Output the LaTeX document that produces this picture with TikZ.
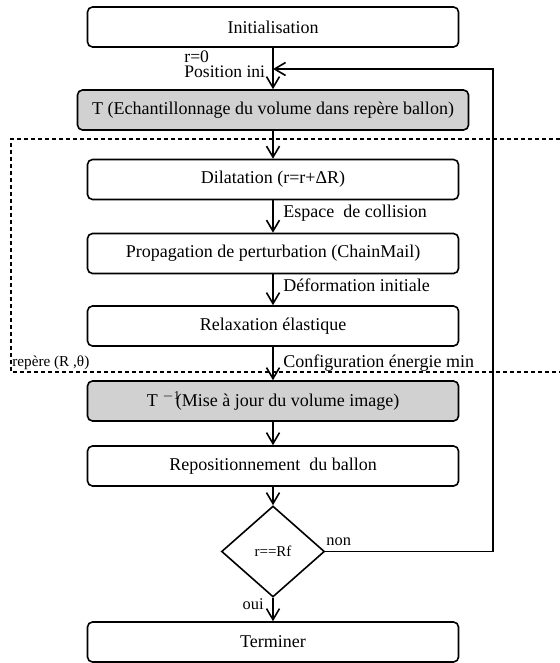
\documentclass[tikz,border=0pt]{standalone}
\usepackage{fontspec}
\setmainfont{Liberation Serif}
\usetikzlibrary{arrows.meta,shapes.geometric,positioning}
\tikzset{
  etape/.style={draw,rounded corners=2.5pt,line width=0.8pt,inner sep=2pt,minimum width=185.5pt,minimum height=20pt,font=\fontsize{9}{10}\selectfont},
  etapegris/.style={etape,fill=black!18},
  test/.style={draw,diamond,line width=0.8pt,inner sep=0pt,minimum width=51.5pt,minimum height=45.5pt,font=\fontsize{7.5}{8}\selectfont},
  fleche/.style={-{Straight Barb[length=5.5pt,width=6.5pt]},line width=0.8pt},
  cadre/.style={line width=0.6pt,dash pattern=on 2pt off 1.5pt},
  lbl/.style={font=\fontsize{9}{10}\selectfont,inner sep=0pt},
  petit/.style={font=\fontsize{8.2}{9}\selectfont,inner sep=0pt}
}
\begin{document}
\begin{tikzpicture}[x=0.5pt,y=-0.5pt]
\useasboundingbox (0,0) rectangle (560,663);
% cadre du repere ballon
\draw[cadre] (560,139) -- (11,139) -- (11,372) -- (560,372);
\node[petit,anchor=west,font=\fontsize{7.6}{8}\selectfont] (rep) at (12,363) {repère (R ,θ)};
% etapes
\node[etape] (init) at (273,27) {Initialisation};
\node[etapegris,minimum width=195.5pt] (trans) at (273,110) {T (Echantillonnage du volume dans repère ballon)};
\node[etape] (dil) at (273,179.5) {Dilatation (r=r+ΔR)};
\node[etape] (prop) at (273,253.5) {Propagation de perturbation (ChainMail)};
\node[etape] (relax) at (273,326) {Relaxation élastique};
\node[etapegris] (tinv) at (273,401) {T \textsuperscript{$-$1}\kern-2.5pt(Mise à jour du volume image)};
\node[etape] (repos) at (273,466) {Repositionnement \ du ballon};
\node[test] (dec) at (273,551.5) {r==Rf};
\node[etape] (fin) at (273,642) {Terminer};
% fleches
\draw[fleche] (init) -- (trans);
\draw[fleche] (trans) -- (dil);
\draw[fleche] (dil) -- (prop);
\draw[fleche] (prop) -- (relax);
\draw[fleche] (relax) -- (tinv);
\draw[fleche] (tinv) -- (repos);
\draw[fleche] (repos) -- (dec);
\draw[fleche] (dec) -- (fin);
\coordinate (retour) at (493,69);
\draw[fleche] (dec.east) -| (retour) -- (init.south |- retour);
% etiquettes
\node[lbl,anchor=west,align=left,font=\fontsize{8.8}{7.5}\selectfont] (ini) at (184,64.5) {r=0\\Position ini};
\node[lbl,anchor=west] (esp) at (283,213) {Espace \ de collision};
\node[lbl,anchor=west] (def) at (283,285.5) {Déformation initiale};
\node[lbl,anchor=west] (conf) at (283,363) {Configuration énergie min};
\node[petit,anchor=west] (non) at (326,542) {non};
\node[petit,anchor=east] (oui) at (264,604) {oui};
\end{tikzpicture}
\end{document}
